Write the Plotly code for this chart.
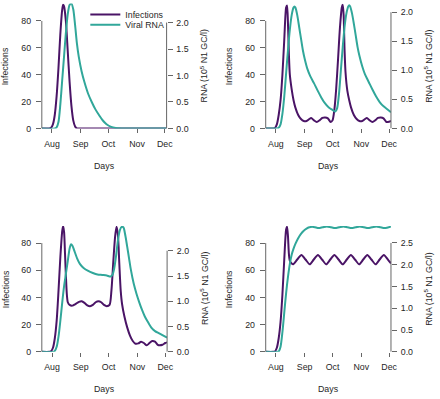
import pandas as pd
import plotly.graph_objects as go

BASE = pd.Timestamp("2020-07-21")

# ---------------- data (day offsets from BASE) ----
# Panel 1
p1_inf_d = [0, 8, 10, 12, 14, 16, 18, 20, 22, 23, 24, 26, 28, 30, 32, 34, 36, 38, 40, 135]
p1_inf_v = [0, 0, 0.5, 3, 10, 24, 45, 70, 88, 92, 91, 80, 58, 35, 17, 6, 1.5, 0, 0, 0]
p1_rna_d = [0, 14, 16, 18, 20, 22, 24, 26, 28, 30, 32, 34, 36, 38, 40, 43, 46, 50, 54, 58,
            62, 66, 70, 75, 80, 90, 135]
p1_rna_v = [0, 0, 0.02, 0.12, 0.45, 0.9, 1.35, 1.8, 2.15, 2.33, 2.36, 2.25, 1.95, 1.6, 1.35,
            1.08, 0.88, 0.66, 0.5, 0.36, 0.25, 0.15, 0.08, 0.03, 0.01, 0, 0]

# Panel 2
p2_inf_d = [0, 8, 10, 12, 14, 16, 18, 20, 22, 23, 24, 25, 26, 28, 30, 32, 35, 38, 41, 44, 47,
            49, 52, 55, 58, 61, 64, 67, 70, 72, 74, 76, 78, 80, 82, 83, 84, 85, 86, 88, 90, 92,
            95, 98, 101, 104, 107, 109, 112, 115, 118, 121, 124, 127, 130, 133, 135]
p2_inf_v = [0, 0, 0.3, 3, 10, 21, 40, 66, 90, 91.5, 78, 55, 40, 29, 21, 15.5, 10, 7, 5.5, 5.5, 7,
            7.8, 6, 4.8, 6, 7.8, 8.2, 7.5, 4.8, 6, 14, 30, 52, 75, 90, 92, 84, 58, 42, 28, 21, 15.5,
            10, 7, 5.5, 5.5, 7, 7.8, 6, 4.8, 6, 7.8, 8.2, 7.5, 4.8, 5, 5.5]
p2_rna_d = [0, 12, 14, 16, 18, 20, 22, 24, 26, 28, 30, 31, 32, 34, 36, 38, 40, 42, 45, 48, 52,
            56, 60, 64, 68, 72, 75, 77, 79, 81, 83, 85, 87, 89, 90, 91, 93, 95, 97, 99, 101, 104,
            107, 111, 115, 119, 123, 127, 131, 135]
p2_rna_v = [0, 0, 0.01, 0.07, 0.25, 0.55, 0.95, 1.35, 1.7, 1.95, 2.08, 2.1, 2.08, 1.95, 1.75,
            1.55, 1.35, 1.2, 1.02, 0.9, 0.78, 0.65, 0.53, 0.43, 0.36, 0.32, 0.29, 0.35, 0.6, 1.0,
            1.4, 1.75, 1.98, 2.1, 2.12, 2.1, 1.98, 1.8, 1.6, 1.4, 1.25, 1.07, 0.93, 0.8, 0.67,
            0.55, 0.45, 0.38, 0.33, 0.28]

# Panel 3
p3_inf_d = [0, 8, 10, 12, 14, 16, 18, 20, 22, 23, 24, 25, 26, 27, 28, 30, 33, 36, 40, 43, 46,
            49, 52, 55, 58, 61, 64, 67, 70, 73, 75, 77, 79, 80.5, 82, 83.5, 85, 86.5, 89, 92, 95,
            98, 101, 104, 107, 110, 113, 116, 119, 122, 125, 127, 130, 133, 135]
p3_inf_v = [0, 0, 0.5, 3, 10, 23, 45, 70, 89, 92.5, 88, 72, 55, 42, 36.5, 34.5, 34, 35, 36.8,
            37.2, 36, 34.2, 33.6, 34.5, 36.5, 37.2, 36.5, 34.5, 33.6, 34.5, 45, 66, 85, 92, 86,
            65, 45, 35, 26, 18, 12, 8, 6, 6.2, 7.5, 6.5, 4.8, 6.5, 8, 7.5, 5.2, 4.8, 5.2, 6.5, 7]
p3_rna_d = [0, 12, 14, 16, 18, 20, 22, 24, 26, 28, 30, 31.5, 33, 35, 38, 41, 45, 50, 55, 60, 65,
            70, 74, 76, 78, 80, 82, 84, 86, 88, 90, 92, 94, 96, 99, 102, 105, 108, 111, 114, 118,
            122, 126, 130, 135]
p3_rna_v = [0, 0, 0.02, 0.1, 0.3, 0.62, 0.98, 1.3, 1.55, 1.8, 2.05, 2.13, 2.1, 2.0, 1.85, 1.74,
            1.66, 1.6, 1.56, 1.53, 1.52, 1.51, 1.49, 1.52, 1.65, 1.9, 2.2, 2.4, 2.47, 2.46, 2.3,
            2.08, 1.85, 1.62, 1.35, 1.15, 0.98, 0.83, 0.7, 0.6, 0.48, 0.41, 0.37, 0.33, 0.28]

# Panel 4
p4_inf_d = [0, 8, 10, 12, 14, 16, 18, 20, 22, 23, 24, 25, 26, 28, 29.6, 34, 38.5, 42.9, 47.4,
            51.8, 56.3, 60.7, 65.2, 69.6, 74, 78.5, 83, 87.4, 91.8, 96.2, 100.7, 105.1, 109.5,
            113.9, 118.4, 122.8, 127.3, 131.7, 135]
p4_inf_v = [0, 0, 0.3, 3, 10, 22, 42, 68, 90, 92, 85, 72, 67, 65, 64.4, 67.9, 71.3, 67.9, 64.4,
            67.9, 71.3, 67.9, 64.4, 67.9, 71.3, 67.9, 64.4, 67.9, 71.3, 67.9, 64.4, 67.9, 71.3,
            67.9, 64.4, 67.9, 71.3, 67.9, 65]
p4_rna_d = [0, 12, 14, 16, 18, 20, 22, 24, 26, 28, 30, 32, 35, 38, 41, 44, 47, 50, 53, 57, 61.4,
            65.9, 70.3, 74.8, 79.2, 83.7, 88.1, 92.5, 97, 101.4, 105.8, 110.3, 114.7, 119.2,
            123.6, 128, 132.4, 135]
p4_rna_v = [0, 0, 0.01, 0.12, 0.45, 0.9, 1.35, 1.72, 2.02, 2.23, 2.37, 2.48, 2.61, 2.71, 2.78,
            2.83, 2.86, 2.87, 2.86, 2.84, 2.86, 2.88, 2.86, 2.84, 2.86, 2.88, 2.86, 2.84, 2.86,
            2.88, 2.86, 2.84, 2.86, 2.88, 2.86, 2.84, 2.86, 2.875]

month_ticks = ["2020-08-01", "2020-09-01", "2020-10-01", "2020-11-01", "2020-12-01"]
month_labels = ["Aug", "Sep", "Oct", "Nov", "Dec"]
inf_ticks = [0, 20, 40, 60, 80]
rna_ticks_a = [0, 0.5, 1.0, 1.5, 2.0]
rna_ticks_b = [0, 0.5, 1.0, 1.5, 2.0, 2.5]

# ---------------- styling -------------------------------------------------
W, H = 440, 399
PURPLE = "#4a1466"
TEAL = "#31a79a"
AX = "#666666"
TXT = "#262626"
FS = 8.8
FONT = "Liberation Sans, Arial, sans-serif"

panels = [
    # (inf_d, inf_v, rna_d, rna_v, xpx0, xpx1, ytop, ybot, inf_top, rna_top, rna_ticks)
    (p1_inf_d, p1_inf_v, p1_rna_d, p1_rna_v, 42.5, 169.3, 0.5, 128, 93.0, 2.36, rna_ticks_a),
    (p2_inf_d, p2_inf_v, p2_rna_d, p2_rna_v, 270.0, 397.3, 0.5, 128, 93.0, 2.15, rna_ticks_a),
    (p3_inf_d, p3_inf_v, p3_rna_d, p3_rna_v, 42.5, 169.8, 227.5, 356, 92.6, 2.49, rna_ticks_a),
    (p4_inf_d, p4_inf_v, p4_rna_d, p4_rna_v, 270.0, 397.3, 227.5, 356, 92.6, 2.89, rna_ticks_b),
]


def dates(d):
    return BASE + pd.to_timedelta(d, unit="D")


fig = go.Figure()
layout = dict(width=W, height=H, autosize=False, margin=dict(l=0, r=0, t=0, b=0),
              paper_bgcolor="white", plot_bgcolor="white", showlegend=True,
              font=dict(family=FONT, size=FS, color=TXT))
shapes, annotations = [], []

for i, (idd, iv, rd, rv, x0, x1, yt, yb, itop, rtop, rticks) in enumerate(panels):
    k = i + 1
    xa = "x" if k == 1 else f"x{k}"
    yl = 2 * k - 1
    yr = 2 * k
    yla = "y" if yl == 1 else f"y{yl}"
    yra = f"y{yr}"
    fig.add_trace(go.Scatter(x=dates(idd), y=iv, mode="lines", name="Infections",
                             line=dict(color=PURPLE, width=2, shape="spline", smoothing=0.7),
                             xaxis=xa, yaxis=yla, showlegend=(k == 1),
                             legend="legend", hoverinfo="skip"))
    fig.add_trace(go.Scatter(x=dates(rd), y=rv, mode="lines", name="Viral RNA",
                             line=dict(color=TEAL, width=2, shape="spline", smoothing=0.7),
                             xaxis=xa, yaxis=yra, showlegend=(k == 1),
                             legend="legend2", hoverinfo="skip"))
    dom_x = [x0 / W, x1 / W]
    dom_y = [1 - yb / H, 1 - yt / H]
    xkey = "xaxis" if k == 1 else f"xaxis{k}"
    layout[xkey] = dict(domain=dom_x, anchor=yla, range=["2020-07-21", "2020-12-03"],
                        type="date", tickvals=month_ticks, ticktext=month_labels,
                        ticks="outside", ticklen=4, tickcolor=AX, tickwidth=1,
                        showline=False, showgrid=False, zeroline=False,
                        tickfont=dict(size=FS, color=TXT), ticklabelstandoff=3)
    ylkey = "yaxis" if yl == 1 else f"yaxis{yl}"
    layout[ylkey] = dict(domain=dom_y, anchor=xa, range=[0, itop], tickvals=inf_ticks,
                         ticks="outside", ticklen=5, tickcolor=AX, tickwidth=1,
                         showline=False, showgrid=False, zeroline=False,
                         tickfont=dict(size=FS, color=TXT), ticklabelstandoff=3)
    layout[f"yaxis{yr}"] = dict(domain=dom_y, anchor=xa, overlaying=yla, side="right",
                                range=[0, rtop], tickvals=rticks, tickformat=".1f",
                                ticks="outside", ticklen=5, tickcolor=AX, tickwidth=1,
                                showline=False, showgrid=False, zeroline=False,
                                tickfont=dict(size=FS, color=TXT), ticklabelstandoff=2)
    # R-style axis lines spanning only the tick range
    shapes.append(dict(type="line", xref=f"{xa} domain", yref=yla, x0=0, x1=0,
                       y0=0, y1=inf_ticks[-1], line=dict(color=AX, width=1)))
    shapes.append(dict(type="line", xref=f"{xa} domain", yref=yra, x0=1, x1=1,
                       y0=0, y1=rticks[-1], line=dict(color=AX, width=1)))
    ymid = 1 - (yt + yb) / 2 / H
    annotations.append(dict(text="Infections", xref="paper", yref="paper",
                            x=(x0 - 37) / W, y=ymid, textangle=-90, showarrow=False,
                            xanchor="center", yanchor="middle", font=dict(size=FS, color=TXT)))
    annotations.append(dict(text="RNA (10<sup>5</sup> N1 GC/l)", xref="paper", yref="paper",
                            x=(x1 + 37.5) / W, y=ymid, textangle=-90, showarrow=False,
                            xanchor="center", yanchor="middle", font=dict(size=FS, color=TXT)))
    annotations.append(dict(text="Days", xref="paper", yref="paper",
                            x=(x0 + x1) / 2 / W, y=1 - (yb + 38) / H, showarrow=False,
                            xanchor="center", yanchor="middle", font=dict(size=FS, color=TXT)))

layout["shapes"] = shapes
layout["annotations"] = annotations
layout["legend"] = dict(x=86.7 / W, y=1 - 11.7 / H, xanchor="left", yanchor="middle",
                        bgcolor="rgba(0,0,0,0)", borderwidth=0, font=dict(size=FS, color=TXT))
layout["legend2"] = dict(x=86.7 / W, y=1 - 22.3 / H, xanchor="left", yanchor="middle",
                         bgcolor="rgba(0,0,0,0)", borderwidth=0, font=dict(size=FS, color=TXT))
fig.update_layout(**layout)
fig.write_html(
    "out.html",
    config={"displayModeBar": False, "staticPlot": False},
    post_script="document.body.style.margin='0';document.body.style.padding='0';"
                "document.body.style.overflow='hidden';",
)
